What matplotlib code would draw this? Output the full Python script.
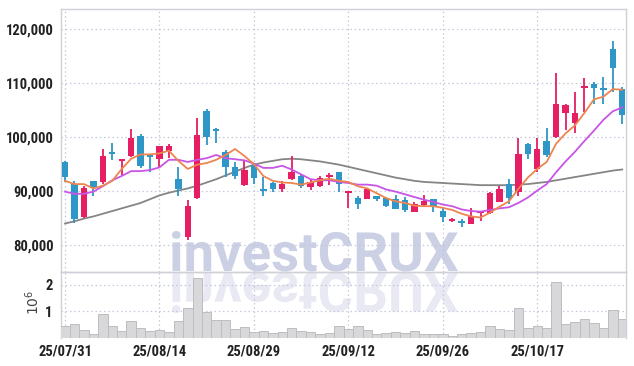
import matplotlib
matplotlib.use("Agg")
import matplotlib.pyplot as plt
import numpy as np
from matplotlib.textpath import TextPath
from matplotlib.patches import PathPatch
from matplotlib.font_manager import FontProperties
from matplotlib.transforms import Affine2D, IdentityTransform

# daily candles, 25/07/31 .. end of Oct (60 trading days)
opens = [95400, 91400, 85200, 91800, 91600, 97200, 95600, 96500, 100200, 96700,
         95900, 97500, 92200, 81500, 88800, 104900, 101600, 97300, 94400, 91100,
         94800, 90400, 91500, 90400, 92200, 92800, 90800, 91000, 92650, 93500,
         89700, 88800, 88600, 89100, 88800, 88500, 88300, 86200, 87400, 88500,
         86300, 84500, 84400, 83900, 85900, 85900, 88000, 91400, 89900, 98700,
         94100, 99300, 100000, 104400, 102700, 109100, 109800, 109100, 116400, 109000]
highs = [95500, 91900, 90900, 91900, 97800, 99000, 96000, 101600, 100500, 96800,
         98400, 98700, 94500, 88300, 103500, 105300, 101700, 97600, 95400, 95700,
         95200, 92600, 91600, 91900, 96500, 93000, 92000, 92800, 93400, 93600,
         90000, 89100, 90500, 89100, 88900, 89300, 88900, 88000, 89200, 88600,
         86800, 85000, 84900, 86800, 86300, 89800, 90900, 92300, 99900, 99000,
         99800, 101700, 111800, 106200, 108400, 110900, 110300, 111200, 117800, 109300]
lows = [91700, 84000, 85000, 89100, 91300, 95700, 93000, 96300, 94300, 93600,
        94500, 96200, 89100, 81000, 88600, 98500, 98900, 92700, 92200, 91000,
        91400, 89100, 89900, 89900, 92000, 90500, 90200, 90800, 91100, 89900,
        86800, 86600, 88500, 88200, 87100, 86600, 86100, 86100, 87200, 86200,
        84300, 84300, 83400, 83900, 84500, 85800, 87900, 87700, 89000, 95900,
        93600, 96300, 99800, 101300, 100700, 104700, 106200, 106200, 108400, 102500]
closes = [92600, 84800, 90500, 90500, 96500, 96900, 96000, 99900, 94700, 96300,
          98300, 98300, 90300, 87200, 100400, 100000, 101200, 94500, 92800, 94000,
          92500, 90000, 90400, 91300, 93500, 91000, 91700, 92500, 92900, 91400,
          90000, 87700, 90300, 88500, 87200, 86700, 86500, 87600, 88100, 87000,
          85200, 84800, 84000, 85400, 86200, 89700, 90400, 88800, 96800, 96800,
          97800, 96700, 106100, 105900, 104400, 109400, 109100, 108800, 112800, 104100]
volumes = [470000, 540000, 310000, 160000, 920000, 470000, 280000, 650000, 390000, 250000,
           310000, 210000, 650000, 1140000, 2250000, 990000, 690000, 690000, 330000, 430000,
           210000, 280000, 180000, 210000, 390000, 250000, 210000, 140000, 190000, 440000,
           340000, 440000, 290000, 140000, 180000, 210000, 190000, 250000, 140000, 140000,
           140000, 90000, 140000, 180000, 230000, 440000, 330000, 290000, 1140000, 360000,
           440000, 360000, 2130000, 520000, 590000, 730000, 550000, 360000, 1040000, 730000]

ma5 = [91900, 91300, 91300, 90500, 91000, 91900, 94100, 96000, 96800, 96800,
       97000, 97500, 95600, 94100, 94900, 95200, 95800, 96700, 97800, 96500,
       95000, 92800, 91900, 91600, 91500, 91200, 91600, 92000, 92300, 91900,
       91700, 90900, 90500, 89600, 88700, 88100, 87800, 87300, 87200, 87200,
       86900, 86500, 85800, 85300, 85100, 86000, 87100, 88100, 90400, 92500,
       94100, 95400, 98800, 100700, 102200, 104500, 107000, 107500, 108900, 108800]
ma10 = [89900, 89500, 89500, 89900, 90900, 92000, 92800, 93700, 93700, 93900,
        94400, 95800, 95800, 95400, 95800, 96100, 96700, 96100, 95900, 95700,
        95100, 94300, 94300, 94700, 94000, 93100, 92200, 92000, 92000, 91700,
        91500, 91200, 91200, 91000, 90300, 89900, 89400, 88900, 88400, 88000,
        87500, 87200, 86600, 86300, 86200, 86500, 86800, 87000, 87800, 88800,
        90100, 91300, 93500, 95500, 97300, 99300, 101200, 103200, 104800, 105500]
ma60 = [84000, 84400, 84900, 85300, 85800, 86300, 86800, 87300, 87800, 88500,
        89200, 89700, 90100, 90500, 91000, 91600, 92200, 92900, 93600, 94300,
        94900, 95300, 95600, 95900, 96000, 95900, 95700, 95500, 95200, 94900,
        94500, 94100, 93700, 93300, 92900, 92500, 92200, 91900, 91700, 91600,
        91500, 91400, 91300, 91200, 91100, 91100, 91100, 91100, 91200, 91300,
        91500, 91700, 92000, 92300, 92600, 92900, 93200, 93500, 93800, 94000]

tick_pos = [0, 10, 20, 30, 40, 50]
tick_labels = ["25/07/31", "25/08/14", "25/08/29", "25/09/12", "25/09/26", "25/10/17"]
price_ticks = [80000, 90000, 100000, 110000, 120000]

UP = "#e61e63"
DOWN = "#2f96c8"
GRID = "#c4c8dc"
SPINE = "#cfd0d8"
LABEL_FONT = ["Roboto Condensed", "DejaVu Sans"]

fig = plt.figure(figsize=(6.34, 3.66), dpi=100)
fig.patch.set_facecolor("white")
ax = fig.add_axes([0.0962, 0.2568, 0.8912, 0.7178])
axv = fig.add_axes([0.0962, 0.0765, 0.8912, 0.1803], sharex=ax)
for a in (ax, axv):
    a.set_facecolor("none")

# watermark + reflection (display pixels)
fp = FontProperties(family="Roboto", weight="bold")
tp = TextPath((0, 0), "investCRUX", size=100, prop=fp)
bb = tp.get_extents()
sx = 286 / bb.width
sy = 40 / bb.y1
H = 366
tr_main = Affine2D().translate(-bb.x0, 0).scale(sx, sy).translate(172, H - 271)
tr_refl = Affine2D().translate(-bb.x0, 0).scale(sx, -sy).translate(172, H - 273)
fig.patches.append(PathPatch(tr_main.transform_path(tp), transform=IdentityTransform(),
                             facecolor="#cbd0e5", edgecolor="none", zorder=-1, figure=fig))
fig.patches.append(PathPatch(tr_refl.transform_path(tp), transform=IdentityTransform(),
                             facecolor="#e8e9f3", edgecolor="none", zorder=-1, figure=fig))

x = np.arange(len(closes))
o = np.array(opens)
c = np.array(closes)
colors = [UP if cc >= oo else DOWN for oo, cc in zip(o, c)]
body_lo = np.minimum(o, c)
body_h = np.maximum(np.abs(c - o), 250)

ax.vlines(x, lows, highs, colors=colors, linewidth=1.3, zorder=3)
ax.bar(x, body_h, bottom=body_lo, width=0.68, color=colors, zorder=4, linewidth=0)

ax.plot(x, ma60, color="#858585", lw=1.3, zorder=2)
ax.plot(x, ma10, color="#c855e6", lw=1.3, zorder=5)
ax.plot(x, ma5, color="#ee8550", lw=1.3, zorder=6)

ax.set_xlim(-0.43, 59.4)
ax.set_ylim(75000, 123700)
ax.set_yticks(price_ticks)
ax.set_yticklabels([f"{p:,}" for p in price_ticks])
ax.set_xticks(tick_pos)
ax.tick_params(axis="x", labelbottom=False, length=0)
ax.tick_params(axis="y", length=0, pad=5, labelsize=10.5, labelcolor="#222222")
for t in ax.get_yticklabels():
    t.set_family(LABEL_FONT)
    t.set_weight("bold")
ax.grid(True, color=GRID, linestyle=(0, (1.2, 2.2)), linewidth=0.9)
for s in ax.spines.values():
    s.set_color(SPINE)
    s.set_linewidth(1.0)

axv.bar(x, np.array(volumes) / 1e6, width=1.0, color="#d8d8da", edgecolor="#bdbdc0",
        linewidth=0.7, zorder=3)
axv.set_ylim(0, 2.49)
axv.set_yticks([1, 2])
axv.set_yticklabels(["1", "2"])
axv.set_xticks(tick_pos)
axv.set_xticklabels(tick_labels)
axv.tick_params(axis="both", length=0, labelsize=10.5, labelcolor="#222222")
axv.tick_params(axis="x", pad=5)
axv.tick_params(axis="y", pad=6)
for t in axv.get_xticklabels() + axv.get_yticklabels():
    t.set_family(LABEL_FONT)
    t.set_weight("bold")
axv.grid(True, color=GRID, linestyle=(0, (1.2, 2.2)), linewidth=0.9)
for s in axv.spines.values():
    s.set_color(SPINE)
    s.set_linewidth(1.0)
axv.spines["bottom"].set_visible(False)
fig.text(0.052, 0.175, r"$10^6$", rotation=90, ha="center", va="center",
         fontsize=10, color="#444444", family="DejaVu Serif")

fig.savefig("out.png", dpi=100)
